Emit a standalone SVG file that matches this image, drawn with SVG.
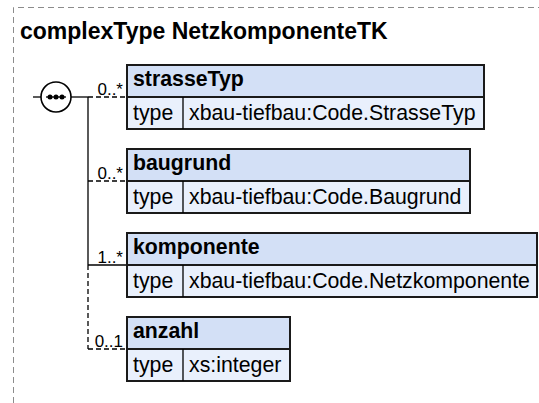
<svg xmlns="http://www.w3.org/2000/svg" width="539" height="403" viewBox="0 0 539 403">
<style>
.frame{fill:none;stroke:#8c8c8c;stroke-width:1;stroke-dasharray:6,4}
.title{font-family:"Liberation Sans",Arial,sans-serif;font-weight:bold;font-size:23px;fill:#000}
.hdr{fill:#d3e0f6;stroke:#1a1a1a;stroke-width:2}
.row{fill:#e9f0fc;stroke:#1a1a1a;stroke-width:2}
.name{font-family:"Liberation Sans",Arial,sans-serif;font-weight:bold;font-size:21.3px;fill:#000}
.txt{font-family:"Liberation Sans",Arial,sans-serif;font-size:21.3px;fill:#000}
.mult{font-family:"Liberation Sans",Arial,sans-serif;font-size:17px;fill:#000}
.ln{fill:none;stroke:#000;stroke-width:1.3}
.dash{fill:none;stroke:#000;stroke-width:1.3;stroke-dasharray:5,3}
</style>
<rect width="539" height="403" fill="#fff"/>
<path class="frame" d="M13.5,403 V7.5 H539"/>
<text class="title" x="20" y="39">complexType NetzkomponenteTK</text>
<g id="sequence">
<line class="ln" x1="33" y1="97" x2="41" y2="97"/>
<circle cx="56" cy="97" r="15" fill="#fff" stroke="#000" stroke-width="1.6"/>
<line class="ln" x1="46" y1="97" x2="66" y2="97" stroke-width="1.6"/>
<circle cx="50" cy="97" r="2.5" fill="#000"/>
<circle cx="56" cy="97" r="2.5" fill="#000"/>
<circle cx="62" cy="97" r="2.5" fill="#000"/>
<line class="ln" x1="71" y1="97" x2="88" y2="97"/>
</g>
<g id="connectors">
<line class="ln" x1="88" y1="97" x2="88" y2="265"/>
<line class="dash" x1="88" y1="265" x2="88" y2="349"/>
<line class="dash" x1="88" y1="97" x2="127" y2="97"/>
<line class="dash" x1="88" y1="181" x2="127" y2="181"/>
<line class="ln" x1="88" y1="265" x2="127" y2="265"/>
<line class="dash" x1="88" y1="349" x2="127" y2="349"/>
<text class="mult" x="123" y="95" text-anchor="end">0..*</text>
<text class="mult" x="123" y="179" text-anchor="end">0..*</text>
<text class="mult" x="123" y="263" text-anchor="end">1..*</text>
<text class="mult" x="123" y="347" text-anchor="end">0..1</text>
</g>
<g id="strasseTyp">
<rect class="hdr" x="127" y="65" width="357" height="32"/>
<rect class="row" x="127" y="97" width="357" height="32"/>
<line class="ln" x1="183" y1="97" x2="183" y2="129" stroke-width="2"/>
<text class="name" x="133" y="86">strasseTyp</text>
<text class="txt" x="133" y="120">type</text>
<text class="txt" x="189" y="120">xbau-tiefbau:Code.StrasseTyp</text>
</g>
<g id="baugrund">
<rect class="hdr" x="127" y="149" width="343" height="32"/>
<rect class="row" x="127" y="181" width="343" height="32"/>
<line class="ln" x1="183" y1="181" x2="183" y2="213" stroke-width="2"/>
<text class="name" x="133" y="170">baugrund</text>
<text class="txt" x="133" y="204">type</text>
<text class="txt" x="189" y="204">xbau-tiefbau:Code.Baugrund</text>
</g>
<g id="komponente">
<rect class="hdr" x="127" y="233" width="410" height="32"/>
<rect class="row" x="127" y="265" width="410" height="32"/>
<line class="ln" x1="183" y1="265" x2="183" y2="297" stroke-width="2"/>
<text class="name" x="133" y="254">komponente</text>
<text class="txt" x="133" y="288">type</text>
<text class="txt" x="189" y="288">xbau-tiefbau:Code.Netzkomponente</text>
</g>
<g id="anzahl">
<rect class="hdr" x="127" y="317" width="163" height="32"/>
<rect class="row" x="127" y="349" width="163" height="32"/>
<line class="ln" x1="183" y1="349" x2="183" y2="381" stroke-width="2"/>
<text class="name" x="133" y="338">anzahl</text>
<text class="txt" x="133" y="372">type</text>
<text class="txt" x="189" y="372">xs:integer</text>
</g>
</svg>
